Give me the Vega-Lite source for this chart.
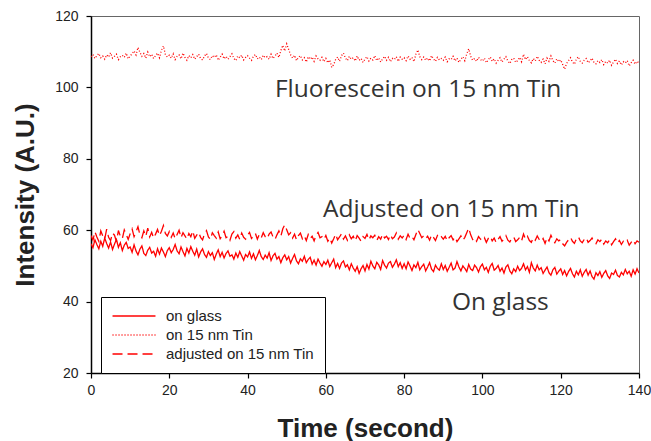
{
"$schema": "https://vega.github.io/schema/vega-lite/v6.json",
"width": 548, "height": 357,
"autosize": {"type": "none"},
"padding": {"left": 91, "top": 16, "right": 12, "bottom": 68},
"background": "white",
"config": {"view": {"stroke": "#666", "strokeWidth": 1}, "font": "Liberation Sans"},
"datasets": {
"series": [
{"t":0,"a":56.2,"b":108.6,"c":58.5},{"t":0.5,"a":55.1,"b":109.2,"c":57.2},{"t":1,"a":57.3,"b":108.1,"c":59.6},{"t":1.5,"a":56.0,"b":108.9,"c":58.1},{"t":2,"a":54.8,"b":109.5,"c":56.9},{"t":2.5,"a":56.9,"b":108.3,"c":59.8},{"t":3,"a":55.5,"b":108.8,"c":58.4},{"t":3.5,"a":57.8,"b":107.9,"c":57.5},{"t":4,"a":56.3,"b":109.1,"c":60.3},{"t":4.5,"a":55.0,"b":108.5,"c":58.0},
{"t":5,"a":56.7,"b":109.7,"c":57.1},{"t":5.5,"a":54.6,"b":108.2,"c":59.2},{"t":6,"a":56.1,"b":108.7,"c":58.6},{"t":6.5,"a":57.4,"b":109.3,"c":56.8},{"t":7,"a":55.2,"b":107.8,"c":59.9},{"t":7.5,"a":56.5,"b":108.6,"c":58.3},{"t":8,"a":54.3,"b":109.0,"c":57.6},{"t":8.5,"a":55.8,"b":108.4,"c":60.1},{"t":9,"a":56.6,"b":109.6,"c":58.8},{"t":9.5,"a":54.9,"b":108.0,"c":57.4},
{"t":10,"a":55.3,"b":108.8,"c":59.0},{"t":10.5,"a":53.8,"b":109.4,"c":60.4},{"t":11,"a":55.9,"b":110.2,"c":58.2},{"t":11.5,"a":54.2,"b":109.1,"c":59.5},{"t":12,"a":53.1,"b":111.2,"c":61.0},{"t":12.5,"a":54.7,"b":109.8,"c":58.7},{"t":13,"a":55.6,"b":108.7,"c":57.9},{"t":13.5,"a":53.5,"b":109.5,"c":59.8},{"t":14,"a":52.9,"b":108.2,"c":58.3},{"t":14.5,"a":54.4,"b":109.9,"c":60.6},
{"t":15,"a":55.2,"b":108.6,"c":58.1},{"t":15.5,"a":53.6,"b":109.3,"c":59.4},{"t":16,"a":54.1,"b":108.1,"c":57.8},{"t":16.5,"a":52.7,"b":108.9,"c":58.9},{"t":17,"a":54.8,"b":109.6,"c":60.2},{"t":17.5,"a":53.3,"b":108.3,"c":58.5},{"t":18,"a":55.0,"b":110.4,"c":59.7},{"t":18.5,"a":53.9,"b":111.6,"c":61.3},{"t":19,"a":52.6,"b":109.2,"c":59.1},{"t":19.5,"a":54.3,"b":108.5,"c":58.4},
{"t":20,"a":55.1,"b":109.0,"c":59.6},{"t":20.5,"a":53.7,"b":108.2,"c":58.0},{"t":21,"a":54.6,"b":109.4,"c":59.2},{"t":21.5,"a":56.0,"b":107.8,"c":57.6},{"t":22,"a":54.2,"b":108.7,"c":58.8},{"t":22.5,"a":53.4,"b":109.1,"c":60.0},{"t":23,"a":55.3,"b":108.0,"c":57.9},{"t":23.5,"a":54.0,"b":109.6,"c":59.3},{"t":24,"a":52.8,"b":108.4,"c":58.4},{"t":24.5,"a":54.9,"b":107.6,"c":57.5},
{"t":25,"a":53.6,"b":108.9,"c":59.1},{"t":25.5,"a":55.4,"b":108.3,"c":58.2},{"t":26,"a":54.1,"b":109.2,"c":59.8},{"t":26.5,"a":53.0,"b":107.9,"c":57.7},{"t":27,"a":54.7,"b":108.6,"c":58.6},{"t":27.5,"a":52.5,"b":109.3,"c":59.4},{"t":28,"a":53.9,"b":108.1,"c":58.0},{"t":28.5,"a":54.8,"b":107.7,"c":57.3},{"t":29,"a":53.2,"b":108.8,"c":59.0},{"t":29.5,"a":52.4,"b":109.5,"c":59.9},
{"t":30,"a":54.0,"b":108.2,"c":58.1},{"t":30.5,"a":52.9,"b":107.8,"c":57.4},{"t":31,"a":53.7,"b":108.9,"c":59.3},{"t":31.5,"a":51.8,"b":108.4,"c":58.5},{"t":32,"a":53.3,"b":109.1,"c":57.8},{"t":32.5,"a":54.5,"b":107.6,"c":59.5},{"t":33,"a":52.6,"b":108.5,"c":57.6},{"t":33.5,"a":53.8,"b":109.3,"c":58.4},{"t":34,"a":52.2,"b":108.0,"c":59.7},{"t":34.5,"a":53.5,"b":108.7,"c":57.9},
{"t":35,"a":54.2,"b":107.9,"c":58.3},{"t":35.5,"a":52.7,"b":108.6,"c":57.2},{"t":36,"a":53.1,"b":109.4,"c":58.9},{"t":36.5,"a":51.9,"b":108.1,"c":59.6},{"t":37,"a":53.6,"b":107.5,"c":57.8},{"t":37.5,"a":52.4,"b":108.8,"c":58.7},{"t":38,"a":54.0,"b":108.3,"c":57.4},{"t":38.5,"a":52.8,"b":109.0,"c":59.2},{"t":39,"a":51.6,"b":107.7,"c":58.0},{"t":39.5,"a":53.2,"b":108.4,"c":57.5},
{"t":40,"a":52.5,"b":108.9,"c":58.6},{"t":40.5,"a":53.9,"b":108.2,"c":59.4},{"t":41,"a":52.1,"b":107.6,"c":57.7},{"t":41.5,"a":53.4,"b":108.7,"c":58.3},{"t":42,"a":51.7,"b":109.2,"c":59.1},{"t":42.5,"a":52.9,"b":108.0,"c":57.5},{"t":43,"a":54.3,"b":108.5,"c":58.8},{"t":43.5,"a":52.6,"b":107.8,"c":57.9},{"t":44,"a":51.8,"b":109.0,"c":59.3},{"t":44.5,"a":53.0,"b":108.3,"c":58.2},
{"t":45,"a":52.2,"b":108.6,"c":57.6},{"t":45.5,"a":53.7,"b":107.9,"c":58.9},{"t":46,"a":51.5,"b":109.3,"c":59.5},{"t":46.5,"a":52.8,"b":108.1,"c":58.1},{"t":47,"a":53.5,"b":108.8,"c":57.4},{"t":47.5,"a":51.9,"b":109.6,"c":58.7},{"t":48,"a":52.6,"b":108.4,"c":59.8},{"t":48.5,"a":50.9,"b":110.3,"c":58.3},{"t":49,"a":52.3,"b":111.8,"c":60.4},{"t":49.5,"a":53.1,"b":110.2,"c":61.5},
{"t":50,"a":51.7,"b":112.2,"c":60.1},{"t":50.5,"a":52.6,"b":110.6,"c":58.7},{"t":51,"a":50.8,"b":109.1,"c":59.3},{"t":51.5,"a":52.1,"b":108.2,"c":57.8},{"t":52,"a":53.2,"b":109.0,"c":58.9},{"t":52.5,"a":51.4,"b":107.5,"c":57.3},{"t":53,"a":50.6,"b":108.4,"c":58.5},{"t":53.5,"a":52.0,"b":108.9,"c":59.2},{"t":54,"a":51.3,"b":107.7,"c":57.6},{"t":54.5,"a":52.7,"b":108.3,"c":58.4},
{"t":55,"a":50.9,"b":107.1,"c":57.1},{"t":55.5,"a":51.8,"b":108.6,"c":58.8},{"t":56,"a":52.4,"b":107.9,"c":57.7},{"t":56.5,"a":50.5,"b":108.5,"c":58.3},{"t":57,"a":51.6,"b":107.3,"c":57.0},{"t":57.5,"a":50.2,"b":108.8,"c":58.6},{"t":58,"a":51.9,"b":108.0,"c":59.4},{"t":58.5,"a":50.8,"b":107.6,"c":57.9},{"t":59,"a":49.9,"b":108.4,"c":58.2},{"t":59.5,"a":51.2,"b":107.2,"c":57.4},
{"t":60,"a":50.4,"b":108.1,"c":58.5},{"t":60.5,"a":51.6,"b":106.9,"c":56.9},{"t":61,"a":49.8,"b":107.7,"c":57.8},{"t":61.5,"a":50.9,"b":105.6,"c":56.4},{"t":62,"a":51.9,"b":106.4,"c":57.6},{"t":62.5,"a":49.5,"b":107.8,"c":58.9},{"t":63,"a":50.7,"b":108.5,"c":57.3},{"t":63.5,"a":49.3,"b":107.3,"c":58.1},{"t":64,"a":50.8,"b":108.9,"c":59.0},{"t":64.5,"a":51.4,"b":109.6,"c":57.5},
{"t":65,"a":49.7,"b":108.2,"c":58.4},{"t":65.5,"a":50.3,"b":107.5,"c":57.2},{"t":66,"a":48.9,"b":108.7,"c":58.7},{"t":66.5,"a":50.6,"b":107.9,"c":57.6},{"t":67,"a":49.4,"b":108.3,"c":58.3},{"t":67.5,"a":48.5,"b":107.4,"c":57.0},{"t":68,"a":49.8,"b":108.8,"c":58.5},{"t":68.5,"a":47.9,"b":107.6,"c":57.8},{"t":69,"a":49.2,"b":108.1,"c":56.9},{"t":69.5,"a":50.1,"b":107.0,"c":58.2},
{"t":70,"a":48.6,"b":107.9,"c":57.7},{"t":70.5,"a":50.4,"b":108.6,"c":58.8},{"t":71,"a":49.1,"b":107.4,"c":57.3},{"t":71.5,"a":51.3,"b":108.2,"c":58.4},{"t":72,"a":50.0,"b":107.7,"c":57.9},{"t":72.5,"a":49.2,"b":108.9,"c":58.6},{"t":73,"a":51.0,"b":107.5,"c":57.1},{"t":73.5,"a":50.3,"b":108.3,"c":58.2},{"t":74,"a":49.0,"b":107.1,"c":57.5},{"t":74.5,"a":51.5,"b":108.0,"c":58.9},
{"t":75,"a":50.2,"b":108.7,"c":57.8},{"t":75.5,"a":49.4,"b":107.6,"c":58.3},{"t":76,"a":50.8,"b":108.4,"c":57.4},{"t":76.5,"a":51.2,"b":107.2,"c":58.7},{"t":77,"a":49.6,"b":108.1,"c":57.6},{"t":77.5,"a":50.5,"b":107.8,"c":58.1},{"t":78,"a":51.7,"b":108.6,"c":59.2},{"t":78.5,"a":49.8,"b":107.3,"c":57.5},{"t":79,"a":50.9,"b":108.5,"c":58.4},{"t":79.5,"a":49.3,"b":107.9,"c":57.8},
{"t":80,"a":50.6,"b":108.3,"c":58.6},{"t":80.5,"a":49.2,"b":107.5,"c":57.4},{"t":81,"a":51.1,"b":108.8,"c":58.9},{"t":81.5,"a":50.0,"b":107.9,"c":57.7},{"t":82,"a":48.7,"b":108.4,"c":58.2},{"t":82.5,"a":50.3,"b":107.2,"c":57.3},{"t":83,"a":49.5,"b":109.3,"c":58.8},{"t":83.5,"a":51.0,"b":110.5,"c":60.2},{"t":84,"a":48.9,"b":108.6,"c":59.1},{"t":84.5,"a":49.8,"b":107.8,"c":57.9},
{"t":85,"a":50.5,"b":108.5,"c":58.4},{"t":85.5,"a":48.6,"b":107.6,"c":57.6},{"t":86,"a":49.7,"b":108.2,"c":58.3},{"t":86.5,"a":50.9,"b":107.4,"c":57.2},{"t":87,"a":49.1,"b":108.9,"c":58.7},{"t":87.5,"a":48.4,"b":108.0,"c":58.0},{"t":88,"a":50.2,"b":107.3,"c":57.1},{"t":88.5,"a":49.3,"b":108.4,"c":58.5},{"t":89,"a":48.8,"b":107.7,"c":57.7},{"t":89.5,"a":50.6,"b":108.1,"c":58.2},
{"t":90,"a":49.0,"b":107.6,"c":57.5},{"t":90.5,"a":50.1,"b":108.5,"c":58.3},{"t":91,"a":48.5,"b":107.2,"c":57.0},{"t":91.5,"a":49.6,"b":108.0,"c":57.9},{"t":92,"a":50.8,"b":107.8,"c":58.5},{"t":92.5,"a":48.9,"b":108.7,"c":57.3},{"t":93,"a":49.4,"b":107.4,"c":58.1},{"t":93.5,"a":51.2,"b":108.2,"c":56.8},{"t":94,"a":49.7,"b":107.0,"c":57.6},{"t":94.5,"a":48.6,"b":107.9,"c":58.4},
{"t":95,"a":50.0,"b":108.6,"c":57.2},{"t":95.5,"a":49.3,"b":107.5,"c":58.0},{"t":96,"a":48.4,"b":109.4,"c":59.3},{"t":96.5,"a":50.4,"b":110.8,"c":60.6},{"t":97,"a":49.1,"b":108.7,"c":58.7},{"t":97.5,"a":48.7,"b":107.6,"c":57.4},{"t":98,"a":50.2,"b":108.1,"c":57.9},{"t":98.5,"a":49.5,"b":107.3,"c":56.9},{"t":99,"a":48.3,"b":108.4,"c":58.2},{"t":99.5,"a":49.8,"b":107.8,"c":57.5},
{"t":100,"a":50.5,"b":107.4,"c":57.1},{"t":100.5,"a":48.9,"b":108.2,"c":57.9},{"t":101,"a":49.6,"b":106.9,"c":56.6},{"t":101.5,"a":48.2,"b":107.7,"c":57.7},{"t":102,"a":49.9,"b":108.5,"c":58.3},{"t":102.5,"a":50.7,"b":107.3,"c":57.0},{"t":103,"a":48.8,"b":108.0,"c":57.8},{"t":103.5,"a":49.3,"b":106.8,"c":56.5},{"t":104,"a":50.1,"b":107.6,"c":57.4},{"t":104.5,"a":48.5,"b":108.3,"c":58.2},
{"t":105,"a":49.4,"b":107.1,"c":56.9},{"t":105.5,"a":48.0,"b":107.9,"c":57.6},{"t":106,"a":49.7,"b":108.6,"c":58.5},{"t":106.5,"a":50.3,"b":107.4,"c":57.2},{"t":107,"a":48.6,"b":106.7,"c":56.7},{"t":107.5,"a":47.8,"b":107.8,"c":57.8},{"t":108,"a":49.2,"b":108.2,"c":58.1},{"t":108.5,"a":48.4,"b":107.0,"c":56.8},{"t":109,"a":49.9,"b":107.5,"c":57.3},{"t":109.5,"a":48.7,"b":108.4,"c":58.0},
{"t":110,"a":49.3,"b":107.2,"c":57.0},{"t":110.5,"a":50.6,"b":109.3,"c":58.9},{"t":111,"a":48.9,"b":107.8,"c":57.5},{"t":111.5,"a":49.8,"b":108.6,"c":58.3},{"t":112,"a":48.2,"b":107.5,"c":57.1},{"t":112.5,"a":50.9,"b":106.9,"c":56.6},{"t":113,"a":49.4,"b":108.1,"c":57.9},{"t":113.5,"a":48.6,"b":107.4,"c":57.2},{"t":114,"a":50.2,"b":108.7,"c":58.4},{"t":114.5,"a":48.9,"b":107.6,"c":57.4},
{"t":115,"a":49.5,"b":107.0,"c":56.8},{"t":115.5,"a":47.9,"b":107.9,"c":57.7},{"t":116,"a":48.8,"b":106.6,"c":56.3},{"t":116.5,"a":49.7,"b":108.2,"c":57.9},{"t":117,"a":48.1,"b":107.3,"c":57.0},{"t":117.5,"a":47.4,"b":108.8,"c":58.6},{"t":118,"a":48.9,"b":107.5,"c":57.3},{"t":118.5,"a":49.6,"b":106.8,"c":56.5},{"t":119,"a":47.7,"b":108.0,"c":57.6},{"t":119.5,"a":48.5,"b":107.2,"c":57.0},
{"t":120,"a":49.2,"b":107.7,"c":57.4},{"t":120.5,"a":47.6,"b":106.4,"c":56.2},{"t":121,"a":48.7,"b":105.1,"c":55.6},{"t":121.5,"a":47.2,"b":106.7,"c":56.6},{"t":122,"a":48.4,"b":107.5,"c":57.3},{"t":122.5,"a":49.3,"b":108.3,"c":58.0},{"t":123,"a":47.8,"b":107.1,"c":56.9},{"t":123.5,"a":46.9,"b":106.5,"c":56.3},{"t":124,"a":48.5,"b":107.9,"c":57.6},{"t":124.5,"a":47.5,"b":108.6,"c":58.2},
{"t":125,"a":48.9,"b":107.3,"c":57.0},{"t":125.5,"a":47.1,"b":106.8,"c":56.5},{"t":126,"a":48.2,"b":107.6,"c":57.4},{"t":126.5,"a":49.0,"b":108.1,"c":57.9},{"t":127,"a":47.4,"b":106.9,"c":56.6},{"t":127.5,"a":48.6,"b":107.4,"c":57.1},{"t":128,"a":47.0,"b":108.2,"c":57.8},{"t":128.5,"a":46.3,"b":107.0,"c":56.7},{"t":129,"a":48.1,"b":106.6,"c":56.2},{"t":129.5,"a":47.3,"b":107.5,"c":57.3},
{"t":130,"a":48.4,"b":107.0,"c":56.8},{"t":130.5,"a":46.8,"b":107.8,"c":57.5},{"t":131,"a":47.9,"b":106.4,"c":56.1},{"t":131.5,"a":48.7,"b":107.3,"c":57.0},{"t":132,"a":47.2,"b":106.8,"c":56.5},{"t":132.5,"a":46.5,"b":107.6,"c":57.3},{"t":133,"a":48.0,"b":106.2,"c":55.9},{"t":133.5,"a":47.6,"b":107.1,"c":56.8},{"t":134,"a":48.8,"b":107.9,"c":57.6},{"t":134.5,"a":47.3,"b":106.7,"c":56.4},
{"t":135,"a":46.9,"b":107.4,"c":57.1},{"t":135.5,"a":48.2,"b":106.3,"c":56.0},{"t":136,"a":47.5,"b":107.2,"c":56.9},{"t":136.5,"a":49.0,"b":106.8,"c":56.5},{"t":137,"a":47.8,"b":107.5,"c":57.2},{"t":137.5,"a":48.5,"b":106.0,"c":55.8},{"t":138,"a":47.1,"b":106.9,"c":56.6},{"t":138.5,"a":48.9,"b":107.6,"c":57.3},{"t":139,"a":47.7,"b":106.5,"c":56.2},{"t":139.5,"a":49.2,"b":107.3,"c":57.0},
{"t":140,"a":48.0,"b":106.8,"c":56.6}
],
"notes": [
{"x": 47.0, "y": 97.2, "label": "Fluorescein on 15 nm Tin"},
{"x": 59.3, "y": 63.8, "label": "Adjusted on 15 nm Tin"},
{"x": 92.2, "y": 37.65, "label": "On glass"}
]
},
"layer": [
{
"data": {"name": "series"},
"transform": [{"fold": ["a", "b", "c"], "as": ["series", "v"]}],
"mark": {"type": "line", "color": "#ff0000", "strokeWidth": 1.3, "clip": true},
"encoding": {
"x": {"field": "t", "type": "quantitative",
"scale": {"domain": [0, 140], "nice": false},
"axis": {"values": [0, 20, 40, 60, 80, 100, 120, 140], "title": "Time (second)", "grid": false,
"domainColor": "#000", "domainWidth": 1.5, "tickColor": "#000", "tickSize": 5, "tickWidth": 1.2,
"labelFont": "Liberation Sans", "labelFontSize": 14, "labelColor": "#222", "labelPadding": 5, "labelFlush": false,
"titleFont": "Liberation Sans", "titleFontSize": 26, "titleFontWeight": "bold", "titleColor": "#222",
"titleX": 274, "titleY": 55, "titleBaseline": "middle"}},
"y": {"field": "v", "type": "quantitative",
"scale": {"domain": [20, 120], "nice": false},
"axis": {"values": [20, 40, 60, 80, 100, 120], "title": "Intensity (A.U.)", "grid": false,
"domainColor": "#000", "domainWidth": 1.5, "tickColor": "#000", "tickSize": 5, "tickWidth": 1.2,
"labelFont": "Liberation Sans", "labelFontSize": 14, "labelColor": "#222", "labelPadding": 8, "labelFlush": false,
"titleFont": "Liberation Sans", "titleFontSize": 26, "titleFontWeight": "bold", "titleColor": "#222",
"titleX": -66, "titleY": 178.5, "titleBaseline": "middle"}},
"strokeDash": {"field": "series", "type": "nominal",
"scale": {"domain": ["a", "b", "c"], "range": [[1, 0], [1, 2], [10, 5]]},
"legend": {"title": null, "orient": "none", "legendX": 10, "legendY": 281,
"symbolType": "M-3,0H3", "symbolSize": 205, "symbolStrokeWidth": 1.5, "symbolStrokeColor": "#ff0000", "symbolFillColor": "transparent",
"symbolOffset": 14, "labelOffset": 24, "rowPadding": 3, "padding": 11,
"labelFont": "Liberation Sans", "labelFontSize": 15, "labelColor": "#222",
"strokeColor": "#000", "fillColor": "#fff",
"labelExpr": "datum.label == 'a' ? 'on glass' : datum.label == 'b' ? 'on 15 nm Tin' : 'adjusted on 15 nm Tin'"}}
}
},
{
"data": {"name": "notes"},
"mark": {"type": "text", "align": "left", "baseline": "alphabetic", "font": "Open Sans", "fontSize": 24.5, "color": "#333"},
"encoding": {
"x": {"field": "x", "type": "quantitative"},
"y": {"field": "y", "type": "quantitative"},
"text": {"field": "label"}
}
}
]
}
